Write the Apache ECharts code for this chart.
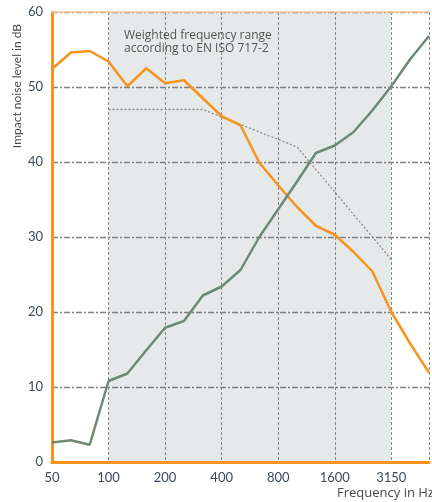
<!DOCTYPE html>
<html><head><meta charset="utf-8">
<script src="https://cdn.jsdelivr.net/npm/echarts@6/dist/echarts.min.js"></script>
<style>html,body{margin:0;padding:0;background:#fff}#c{width:432px;height:502px}</style>
</head><body><div id="c"></div>
<script>
// third-octave bands 50 Hz .. 5000 Hz
const bands = ['50','63','80','100','125','160','200','250','315','400','500','630','800','1000','1250','1600','2000','2500','3150','4000','5000'];
const tickLabels = {0:'50',3:'100',6:'200',9:'400',12:'800',15:'1600',18:'3150'};
const orangeValues = [52.4,54.6,54.8,53.4,50.1,52.5,50.5,50.9,48.5,46.1,44.9,39.9,36.9,34.0,31.5,30.3,28.0,25.4,20.0,15.8,11.9];
const greenValues  = [2.6,2.9,2.3,10.8,11.8,14.9,17.9,18.8,22.2,23.4,25.6,30.0,33.7,37.4,41.2,42.2,44.0,46.9,50.1,53.7,56.8];
const refBands = ['100','125','160','200','250','315','400','500','630','800','1000','1250','1600','2000','2500','3150'];
const refValues = [47,47,47,47,47,47,46,45,44,43,42,39,36,33,30,27];
const shadeFrom = '100', shadeTo = '3150';
const annotation = ['Weighted frequency range', 'according to EN ISO 717-2'];

const idx = b => bands.indexOf(b);
const FONT = 'Lato, "Open Sans", sans-serif';
const FONT2 = '"Open Sans", Lato, sans-serif';
const chart = echarts.init(document.getElementById('c'), null, {renderer:'canvas'});
chart.setOption({
  animation:false,
  grid:{left:52, right:0, top:12, bottom:40, containLabel:false},
  xAxis:[{
    type:'value', min:0, max:bands.length-1, interval:3, z:4,
    axisLine:{show:true, lineStyle:{color:'#f7941d', width:3}},
    axisTick:{show:false},
    axisLabel:{formatter:v=>tickLabels[v]||'', color:'#3d4a5e', fontSize:13, fontFamily:FONT, margin:9},
    splitLine:{show:true, lineStyle:{color:'#888', type:[3,2], width:1}}
  },{
    type:'value', position:'top', min:0, max:bands.length-1, z:4,
    axisLine:{show:true, lineStyle:{color:'#f9c596', width:1.5}},
    axisTick:{show:false}, axisLabel:{show:false}, splitLine:{show:false}
  }],
  yAxis:{
    type:'value', min:0, max:60, interval:10, z:4,
    axisLine:{show:true, lineStyle:{color:'#f7941d', width:3}},
    axisTick:{show:false},
    axisLabel:{color:'#3d4a5e', fontSize:13, fontFamily:FONT, margin:9},
    splitLine:{show:true, lineStyle:{color:'#808080', type:[6,2,2,2], width:1.3}}
  },
  series:[
    {type:'line', data:[], z:0, markArea:{silent:true, z:0, zlevel:0, itemStyle:{color:'#e6e9ea'},
      data:[[{xAxis:idx(shadeFrom)},{xAxis:idx(shadeTo)}]]}},
    {type:'line', data:refBands.map((b,i)=>[idx(b),refValues[i]]), symbol:'none',
      lineStyle:{color:'#8c8c8c', width:1.3, type:[2,2]}, z:5},
    {type:'line', data:orangeValues.map((v,i)=>[i,v]), symbol:'none',
      lineStyle:{color:'#f7941d', width:2.5}, z:6},
    {type:'line', data:greenValues.map((v,i)=>[i,v]), symbol:'none',
      lineStyle:{color:'#6d8a75', width:2.5}, z:6}
  ],
  graphic:[
    {type:'text', left:124, top:29, z:10, style:{text:annotation.join('\n'), fill:'#555', font:'12px '+FONT2, lineHeight:13}},
    {type:'text', x:17, y:86, rotation:Math.PI/2, style:{text:'Impact noise level in dB', fill:'#4a4a4a', font:'12px '+FONT, align:'center', verticalAlign:'middle'}},
    {type:'text', left:337, top:487, style:{text:'Frequency in Hz', fill:'#4a4a4a', font:'13px '+FONT2}}
  ]
});
</script></body></html>
